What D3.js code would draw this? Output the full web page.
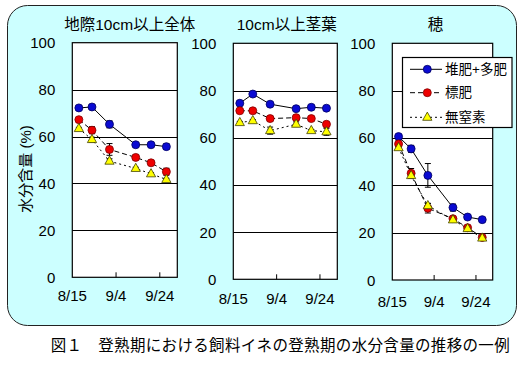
<!DOCTYPE html>
<html>
<head>
<meta charset="utf-8">
<script src="https://cdn.jsdelivr.net/npm/d3@7"></script>
<style>
  html, body { margin: 0; padding: 0; background: #ffffff; }
  svg { display: block; }
  text { font-family: "Liberation Sans", "Noto Sans CJK JP", sans-serif; fill: #000; }
</style>
</head>
<body>
<svg id="chart" width="530" height="380"></svg>
<script>
// ---------------- data ----------------
const sampleDates = ["8/18", "8/24", "9/1", "9/13", "9/20", "9/27"];
const xTickLabels = ["8/15", "9/4", "9/24"];
const yTicks = [0, 20, 40, 60, 80, 100];
const panelTitles = ["地際10cm以上全体", "10cm以上茎葉", "穂"];
const seriesNames = ["堆肥+多肥", "標肥", "無窒素"];
const yAxisTitle = "水分含量 (%)";
const caption = "図１　登熟期における飼料イネの登熟期の水分含量の推移の一例";

// panel 1: 地際10cm以上全体
const p1Compost = [72.2, 72.6, 65.2, 56.5, 56.5, 55.7];
const p1Standard = [67.2, 62.7, 54.5, 51.1, 48.8, 45.0];
const p1NoN = [63.4, 58.7, 49.5, 46.4, 44.1, 41.7];
const p1CompostErr = [0.8, 0.8, 1.5, 0.8, 0.8, 1.2];
const p1StandardErr = [0.8, 1.5, 2.5, 1.0, 1.0, 1.5];
const p1NoNErr = [0.5, 1.0, 1.0, 0.5, 0.5, 0.5];

// panel 2: 10cm以上茎葉
const p2Compost = [74.6, 78.5, 74.2, 72.3, 72.9, 72.5];
const p2Standard = [71.4, 71.4, 68.1, 68.5, 68.1, 65.7];
const p2NoN = [66.4, 67.2, 63.0, 65.7, 63.0, 62.5];
const p2CompostErr = [0.5, 0.5, 0.5, 0.5, 0.5, 0.5];
const p2StandardErr = [0.5, 1.0, 1.0, 1.0, 0.5, 0.5];
const p2NoNErr = [0.5, 0.5, 1.5, 1.0, 0.5, 1.5];

// panel 3: 穂
const p3Compost = [60.6, 55.4, 44.2, 30.6, 26.6, 25.5];
const p3Standard = [57.5, 45.1, 30.3, 25.9, 22.1, 18.0];
const p3NoN = [55.9, 44.1, 31.4, 25.4, 21.7, 17.7];
const p3CompostErr = [0.5, 1.5, 5.0, 1.5, 0.8, 0.5];
const p3StandardErr = [1.5, 2.0, 2.0, 0.8, 1.0, 0.5];
const p3NoNErr = [0.5, 1.0, 1.0, 0.5, 0.5, 0.5];

const dateDomain = ["8/15", "10/2"];

// ---------------- layout / style ----------------
const parseMD = s => { const [m, d] = s.split("/").map(Number); return new Date(2003, m - 1, d); };

const panels = [
  { title: panelTitles[0], titleX: 129.7, x0: 72.3, x1: 177.3, top: 42.7, bottom: 277.3, labelY: 295.5, yLabels: true,
    series: [[p1Compost, p1CompostErr], [p1Standard, p1StandardErr], [p1NoN, p1NoNErr]] },
  { title: panelTitles[1], titleX: 286.7, x0: 233.3, x1: 337.3, top: 43.3, bottom: 279.3, labelY: 298.8, yLabels: true,
    series: [[p2Compost, p2CompostErr], [p2Standard, p2StandardErr], [p2NoN, p2NoNErr]] },
  { title: panelTitles[2], titleX: 435.6, x0: 392.3, x1: 492.7, top: 43.3, bottom: 280, labelY: 301, yLabels: true,
    series: [[p3Compost, p3CompostErr], [p3Standard, p3StandardErr], [p3NoN, p3NoNErr]] }
];

const styles = [
  { fill: "#0a0ad2", stroke: "#000060", dash: null, shape: "circle" },
  { fill: "#ee0000", stroke: "#800000", dash: "5,3", shape: "circle" },
  { fill: "#ffff00", stroke: "#404000", dash: "2,3", shape: "triangle" }
];

const svg = d3.select("#chart");

// outer rounded background
svg.append("rect")
  .attr("x", 7.5).attr("y", 5.5)
  .attr("width", 509).attr("height", 320)
  .attr("rx", 20).attr("ry", 20)
  .attr("fill", "#ccffff")
  .attr("stroke", "#222")
  .attr("stroke-width", 1);

function drawMarker(g, shape, st, x, y) {
  if (shape === "circle") {
    g.append("circle").attr("cx", x).attr("cy", y).attr("r", 4)
      .attr("fill", st.fill).attr("stroke", st.stroke).attr("stroke-width", 0.8);
  } else {
    g.append("path")
      .attr("d", `M${x},${y - 5.2} L${x + 4.6},${y + 3} L${x - 4.6},${y + 3} Z`)
      .attr("fill", st.fill).attr("stroke", st.stroke).attr("stroke-width", 0.8);
  }
}

panels.forEach(p => {
  const x = d3.scaleTime().domain(dateDomain.map(parseMD)).range([p.x0, p.x1]);
  const y = d3.scaleLinear().domain([0, 100]).range([p.bottom, p.top]);
  const g = svg.append("g");

  // plot area
  g.append("rect").attr("x", p.x0).attr("y", p.top)
    .attr("width", p.x1 - p.x0).attr("height", p.bottom - p.top)
    .attr("fill", "#ffffff").attr("stroke", "none");

  // gridlines
  g.selectAll("line.grid").data(yTicks.filter(t => t > 0 && t < 100)).enter()
    .append("line").attr("class", "grid")
    .attr("x1", p.x0).attr("x2", p.x1)
    .attr("y1", d => Math.round(y(d)) + 0.5).attr("y2", d => Math.round(y(d)) + 0.5)
    .attr("stroke", "#000").attr("stroke-width", 1);

  // frame
  g.append("rect").attr("x", p.x0).attr("y", p.top)
    .attr("width", p.x1 - p.x0).attr("height", p.bottom - p.top)
    .attr("fill", "none").attr("stroke", "#000").attr("stroke-width", 1.2);

  // y tick labels
  g.selectAll("text.ytick").data(yTicks).enter()
    .append("text").attr("class", "ytick")
    .attr("x", p.x0 - 17).attr("y", d => y(d))
    .attr("text-anchor", "end").attr("dominant-baseline", "central")
    .attr("font-size", 15).attr("fill", "#222")
    .text(d => d);

  // x ticks (inward) and labels
  g.selectAll("line.xtick").data(xTickLabels.slice(1)).enter()
    .append("line").attr("class", "xtick")
    .attr("x1", d => x(parseMD(d))).attr("x2", d => x(parseMD(d)))
    .attr("y1", p.bottom).attr("y2", p.bottom - 5)
    .attr("stroke", "#000").attr("stroke-width", 1);
  g.selectAll("text.xtick").data(xTickLabels).enter()
    .append("text").attr("class", "xtick")
    .attr("x", d => x(parseMD(d))).attr("y", p.labelY)
    .attr("text-anchor", "middle").attr("dominant-baseline", "central")
    .attr("font-size", 15).attr("fill", "#222")
    .text(d => d);

  // title
  g.append("text").attr("x", p.titleX).attr("y", 24)
    .attr("text-anchor", "middle").attr("dominant-baseline", "central")
    .attr("font-size", 15.5).text(p.title);

  // series lines
  p.series.forEach((s, i) => {
    const vals = s[0];
    const line = d3.line().x((d, j) => x(parseMD(sampleDates[j]))).y(d => y(d));
    const path = g.append("path").datum(vals).attr("d", line)
      .attr("fill", "none").attr("stroke", "#000").attr("stroke-width", 1);
    if (styles[i].dash) path.attr("stroke-dasharray", styles[i].dash);
  });

  // error bars
  p.series.forEach((s, i) => {
    const vals = s[0], errs = s[1];
    vals.forEach((v, j) => {
      const cx = x(parseMD(sampleDates[j]));
      const e = errs[j];
      g.append("line").attr("x1", cx).attr("x2", cx)
        .attr("y1", y(v - e)).attr("y2", y(v + e)).attr("stroke", "#000").attr("stroke-width", 1);
      [v - e, v + e].forEach(t => {
        g.append("line").attr("x1", cx - 3).attr("x2", cx + 3)
          .attr("y1", y(t)).attr("y2", y(t)).attr("stroke", "#000").attr("stroke-width", 1);
      });
    });
  });

  // markers
  p.series.forEach((s, i) => {
    s[0].forEach((v, j) => drawMarker(g, styles[i].shape, styles[i], x(parseMD(sampleDates[j])), y(v)));
  });
});

// y axis title
svg.append("text")
  .attr("transform", "translate(25.5,169) rotate(-90)")
  .attr("text-anchor", "middle").attr("dominant-baseline", "central")
  .attr("font-size", 15).text(yAxisTitle);

// legend
const lg = svg.append("g");
lg.append("rect").attr("x", 402.5).attr("y", 57.5).attr("width", 109.5).attr("height", 70)
  .attr("fill", "#ffffff").attr("stroke", "#000").attr("stroke-width", 1.2);
const legendRows = [69.3, 92.7, 117.3];
seriesNames.forEach((name, i) => {
  const ly = legendRows[i];
  const ln = lg.append("line").attr("x1", 410).attr("x2", 442).attr("y1", ly).attr("y2", ly)
    .attr("stroke", "#000").attr("stroke-width", 1);
  if (styles[i].dash) ln.attr("stroke-dasharray", styles[i].dash);
  drawMarker(lg, styles[i].shape, styles[i], 427.3, ly);
  lg.append("text").attr("x", 445).attr("y", ly).attr("dominant-baseline", "central")
    .attr("font-size", 13.5).text(name);
});

// caption
svg.append("text").attr("x", 50.7).attr("y", 345.5)
  .attr("dominant-baseline", "central")
  .attr("font-family", "'Noto Sans CJK JP', sans-serif")
  .attr("font-size", 15.5)
  .attr("textLength", 459).attr("lengthAdjust", "spacing")
  .text(caption);
</script>
</body>
</html>
